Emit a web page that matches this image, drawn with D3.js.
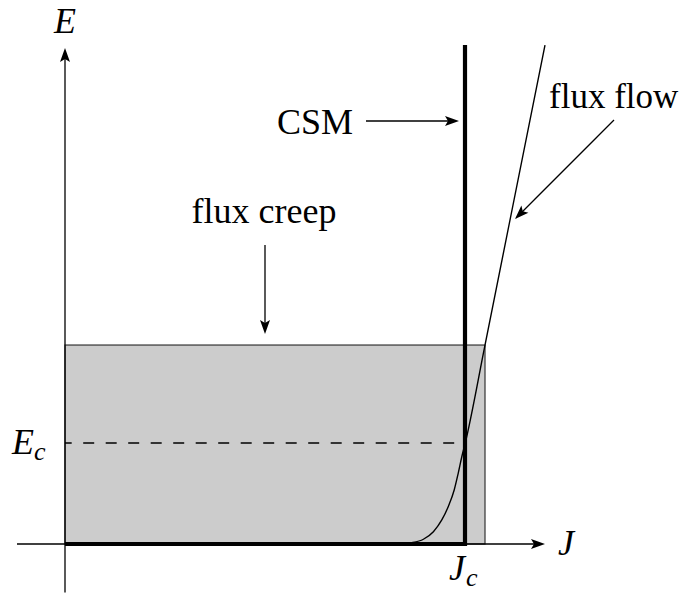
<!DOCTYPE html>
<html>
<head>
<meta charset="utf-8">
<script src="https://cdn.jsdelivr.net/npm/d3@7"></script>
<style>
  @font-face { font-family: "ChartSerif"; src: local("Liberation Serif"), local("LiberationSerif"); font-style: normal; }
  @font-face { font-family: "ChartSerif"; src: local("Liberation Serif Italic"), local("LiberationSerif-Italic"); font-style: italic; }
  html, body { margin: 0; padding: 0; background: #fff; }
  svg { display: block; }
  svg text.lbl { font-family: "Liberation Serif", "ChartSerif", Tinos, "Times New Roman" !important; }
</style>
</head>
<body>
<script>
// ---- data (J in units of Jc, E in units of Ec) ----
const Jc = 1;
const Ec = 1;
const jDomain = [0, 1.2];
const eDomain = [0, 5];
const creepJMax = 1.05;          // right edge of flux-creep region
const creepEMax = 1.97;          // top edge of flux-creep region
const csmJ = [0, 1, 1];          // critical state model (thick line)
const csmE = [0, 0, 4.94];
const flowJ = [0, 0.80, 0.842, 0.867, 0.896, 0.921, 0.942, 0.958, 0.973, 0.983, 0.992, 1.0, 1.05, 1.2];
const flowE = [0, 0, 0.003, 0.013, 0.047, 0.122, 0.238, 0.369, 0.535, 0.700, 0.864, 0.99, 1.97, 4.94];
const labels = ["CSM", "flux flow", "flux creep"];

const W = 699, H = 595;
const svg = d3.select("body").append("svg").attr("width", W).attr("height", H);

const x = d3.scaleLinear().domain(jDomain).range([65, 545]);
const y = d3.scaleLinear().domain(eDomain).range([544, 39]);

function arrowHead(x2, y2, angle) {
  // filled arrow head drawn at (x2,y2) pointing along angle
  const L = 14, Wd = 5, back = 3;
  const ca = Math.cos(angle), sa = Math.sin(angle);
  const p = (u, v) => [x2 + u * ca - v * sa, y2 + u * sa + v * ca];
  const pts = [p(0, 0), p(-L, -Wd), p(-L + back, 0), p(-L, Wd)];
  svg.append("path").attr("d", "M" + pts.map(q => q.join(",")).join("L") + "Z").attr("fill", "#000");
}
function arrow(x1, y1, x2, y2, w) {
  const ang = Math.atan2(y2 - y1, x2 - x1);
  svg.append("line").attr("x1", x1).attr("y1", y1)
    .attr("x2", x2 - 10 * Math.cos(ang)).attr("y2", y2 - 10 * Math.sin(ang))
    .attr("stroke", "#000").attr("stroke-width", w || 1.3);
  arrowHead(x2, y2, ang);
}

// flux creep region
svg.append("rect")
  .attr("x", x(0)).attr("y", y(creepEMax))
  .attr("width", x(creepJMax) - x(0)).attr("height", y(0) - y(creepEMax))
  .attr("fill", "#cccccc").attr("stroke", "#333").attr("stroke-width", 1.2);

// Ec dashed line
svg.append("line")
  .attr("x1", x(0)).attr("x2", x(Jc) - 9)
  .attr("y1", y(Ec)).attr("y2", y(Ec))
  .attr("stroke", "#000").attr("stroke-width", 1.3).attr("stroke-dasharray", "11,11.5")
  .attr("stroke-dashoffset", 4.3);

// axes
svg.append("line").attr("x1", x(-0.12)).attr("x2", x(0)).attr("y1", y(0)).attr("y2", y(0))
  .attr("stroke", "#000").attr("stroke-width", 1.3);
arrow(x(0), y(0), x(1.2), y(0));
svg.append("line").attr("x1", x(0)).attr("x2", x(0)).attr("y1", y(-0.48)).attr("y2", y(0))
  .attr("stroke", "#000").attr("stroke-width", 1.3);
arrow(x(0), y(0), x(0), y(4.91));

// flux flow curve
const flowData = flowJ.map((j, i) => [j, flowE[i]]);
svg.append("path")
  .datum(flowData)
  .attr("d", d3.line().x(d => x(d[0])).y(d => y(d[1])).curve(d3.curveMonotoneX))
  .attr("fill", "none").attr("stroke", "#000").attr("stroke-width", 1.4);

// CSM thick line
const csmData = csmJ.map((j, i) => [j, csmE[i]]);
svg.append("path")
  .datum(csmData)
  .attr("d", d3.line().x(d => x(d[0])).y(d => y(d[1])))
  .attr("fill", "none").attr("stroke", "#000").attr("stroke-width", 4.2)
  .attr("stroke-linejoin", "miter").attr("stroke-linecap", "butt");

// annotation arrows
arrow(366, 121, 459, 121);
arrow(614, 120, 515, 219);
arrow(265, 245, 265, 334);

// text labels
function txt(xp, yp, size) {
  return svg.append("text").attr("class", "lbl").attr("x", xp).attr("y", yp)
    .attr("font-family", "Liberation Serif")
    .attr("font-size", size).attr("fill", "#000");
}
txt(277, 134, 36).text(labels[0]);
txt(549, 108, 35).text(labels[1]);
txt(264, 223, 36).attr("text-anchor", "middle").text(labels[2]);

// axis labels
txt(65, 33, 36).attr("text-anchor", "middle").attr("font-style", "italic").text("E");
txt(558, 555, 36).attr("font-style", "italic").text("J");

const ecT = txt(12, y(Ec) + 11, 36).attr("font-style", "italic");
ecT.append("tspan").text("E");
ecT.append("tspan").attr("font-size", 26).attr("dy", 6).text("c");

const jcT = txt(449, 580, 36).attr("font-style", "italic");
jcT.append("tspan").text("J");
jcT.append("tspan").attr("font-size", 26).attr("dx", 1).attr("dy", 6).text("c");
</script>
</body>
</html>
